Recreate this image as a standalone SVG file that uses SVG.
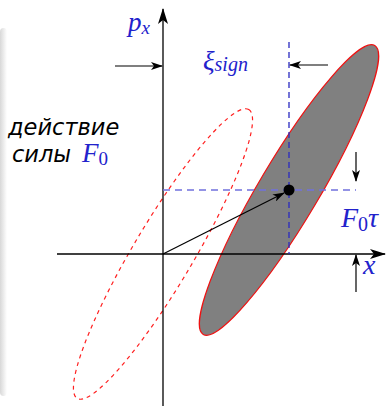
<svg xmlns="http://www.w3.org/2000/svg" width="386" height="406" viewBox="0 0 386 406">
<defs>
<linearGradient id="sh" x1="0" y1="0" x2="1" y2="0">
<stop offset="0" stop-color="#d8d8d8"/>
<stop offset="1" stop-color="#ffffff"/>
</linearGradient>
<marker id="ah" viewBox="0 0 12 8" refX="11" refY="4" markerWidth="12" markerHeight="8" markerUnits="userSpaceOnUse" orient="auto">
<path d="M0,0 L12,4 L0,8 L3,4 Z" fill="#000"/>
</marker>
<marker id="ahb" viewBox="0 0 16 10" refX="15" refY="5" markerWidth="16" markerHeight="10" markerUnits="userSpaceOnUse" orient="auto">
<path d="M0,0 L16,5 L0,10 L4,5 Z" fill="#000"/>
</marker>
</defs>
<style>
.ax{stroke:#000;stroke-width:1.3;fill:none}
.ar{stroke:#000;stroke-width:1.2;fill:none}
.m{font-family:"Liberation Serif",serif;font-style:italic;fill:#2222cc}
.t{font-family:"DejaVu Sans",sans-serif;font-style:italic;fill:#000;font-size:22.5px}
</style>
<rect x="0" y="28" width="7" height="368" rx="4" fill="url(#sh)"/>
<g id="ellipse-initial">
<ellipse cx="0" cy="0" rx="168" ry="30" transform="translate(163,254) rotate(-59.3)" fill="none" stroke="#ff2020" stroke-width="1.2" stroke-dasharray="4,4"/>
</g>
<g id="ellipse-shifted">
<ellipse cx="0" cy="0" rx="168" ry="30" transform="translate(289,190) rotate(-59.3)" fill="#808080" stroke="#ee1111" stroke-width="1.2"/>
</g>
<g id="connectors">
<line class="ax" x1="163" y1="406" x2="163" y2="9" marker-end="url(#ahb)"/>
<line class="ax" x1="57" y1="254" x2="385" y2="254" marker-end="url(#ahb)"/>
<line x1="163" y1="190" x2="356" y2="190" stroke="#7070dd" stroke-width="1.5" stroke-dasharray="7,5"/>
<line x1="289" y1="42" x2="289" y2="254" stroke="#2a2ac0" stroke-width="1.3" stroke-dasharray="6,4"/>
<line class="ar" x1="163" y1="254" x2="284" y2="193" marker-end="url(#ah)"/>
<line class="ar" x1="115" y1="66" x2="162" y2="66" marker-end="url(#ah)"/>
<line class="ar" x1="328" y1="65" x2="290" y2="65" marker-end="url(#ah)"/>
<line class="ar" x1="356" y1="152" x2="356" y2="181" marker-end="url(#ah)"/>
<line class="ar" x1="356" y1="292" x2="356" y2="255" marker-end="url(#ah)"/>
</g>
<g id="dot"><circle cx="289" cy="190" r="5.5" fill="#000"/></g>
<g id="labels">
<text class="m" x="128" y="31" font-size="27">p<tspan font-size="19" dy="3">x</tspan></text>
<text class="m" x="203" y="70" font-size="27">ξ<tspan font-size="20" dy="1">sign</tspan></text>
<text class="m" x="341" y="227" font-size="28">F<tspan font-size="20" font-style="normal" dy="4">0</tspan><tspan dy="-4">τ</tspan></text>
<text class="m" x="363" y="274" font-size="28">x</text>
<text class="t" x="8" y="135">действие</text>
<text class="t" x="12" y="162">силы</text>
<text class="m" x="82" y="162" font-size="27">F<tspan font-size="19" font-style="normal" dy="3">0</tspan></text>
</g>
</svg>
